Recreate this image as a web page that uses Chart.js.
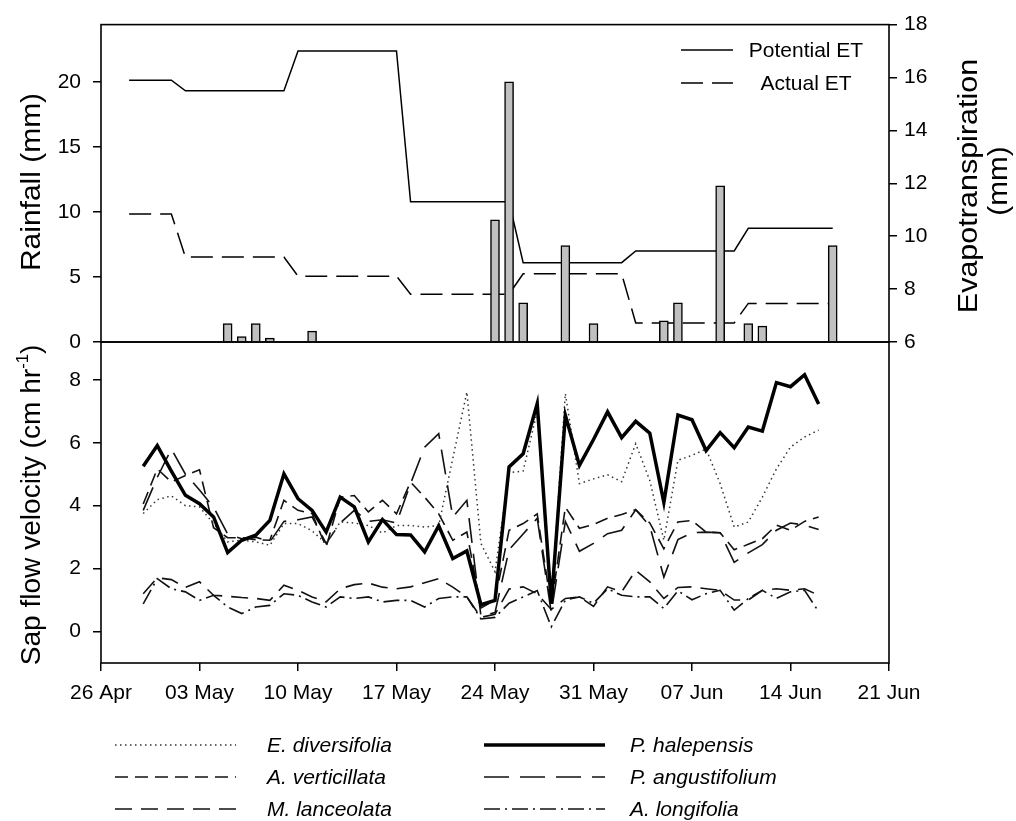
<!DOCTYPE html>
<html>
<head>
<meta charset="utf-8">
<script src="https://cdn.jsdelivr.net/npm/chart.js@4.4.1/dist/chart.umd.min.js"></script>
<style>
  html, body { margin: 0; padding: 0; background: #fff; }
  #wrap { position: relative; width: 1016px; height: 821px; background: #fff; }
  #wrap canvas { position: absolute; left: 0; top: 0; }
</style>
</head>
<body>
<div id="wrap">
  <canvas id="et_chart" width="1016" height="821"></canvas>
  <canvas id="sap_chart" width="1016" height="821"></canvas>
</div>
<script>
// x axis: days counted from 26 Apr
const dateTicks = [0, 7, 14, 21, 28, 35, 42, 49, 56];
const dateLabels = ["26 Apr", "03 May", "10 May", "17 May", "24 May", "31 May", "07 Jun", "14 Jun", "21 Jun"];

const rainTicks = [0, 5, 10, 15, 20];
const etTicks = [6, 8, 10, 12, 14, 16, 18];
const sapTicks = [0, 2, 4, 6, 8];

// rainfall (mm)
const rainDays = [9, 10, 11, 12, 15, 28, 29, 30, 33, 35, 40, 41, 44, 46, 47, 52];
const rainfall = [1.42, 0.41, 1.42, 0.3, 0.84, 9.39, 20.0, 3.02, 7.41, 1.42, 1.63, 3.02, 12.0, 1.42, 1.22, 7.41];

// evapotranspiration (mm), weekly steps
const etDays = [2, 5, 6, 13, 14, 21, 22, 29, 30, 37, 38, 45, 46, 52];
const potentialET = [15.9, 15.9, 15.5, 15.5, 17.0, 17.0, 11.3, 11.3, 9.0, 9.0, 9.44, 9.44, 10.3, 10.3];
const actualET = [10.84, 10.84, 9.21, 9.21, 8.49, 8.49, 7.81, 7.81, 8.58, 8.58, 6.72, 6.72, 7.46, 7.46];

// sap flow velocity (cm hr-1), daily
const sapDays = [3, 4, 5, 6, 7, 8, 9, 10, 11, 12, 13, 14, 15, 16, 17, 18, 19, 20, 21, 22, 23, 24, 25, 26, 27,
  28, 29, 30, 31, 32, 33, 34, 35, 36, 37, 38, 39, 40, 41, 42, 43, 44, 45, 46, 47, 48, 49, 50, 51];
const eDiversifolia = [3.75, 4.19, 4.31, 4.0, 3.96, 3.43, 2.85, 2.9, 2.85, 2.74, 3.43, 3.43, 3.2, 2.8, 3.48, 3.45, 3.37,
  3.13, 3.37, 3.37, 3.32, 3.37, 5.5, 7.61, 2.8, 1.9, 5.05, 5.1, 7.0, 0.9, 7.56, 4.7, 4.85, 4.98, 4.76, 5.97, 4.8, 2.9,
  5.44, 5.6, 5.8, 4.7, 3.32, 3.48, 4.27, 5.17, 5.86, 6.18, 6.4];
const aVerticillata = [4.05, 5.17, 4.75, 4.96, 5.14, 3.3, 2.98, 2.98, 2.92, 2.9, 4.17, 3.85, 3.75, 2.68, 4.27, 4.32, 3.8,
  4.17, 3.74, 4.75, 4.27, 3.74, 2.9, 3.16, 0.75, 1.0, 3.22, 3.43, 3.74, 0.8, 3.95, 3.28, 3.4, 3.6, 3.72, 3.87, 3.45, 2.63,
  3.48, 3.53, 3.16, 3.14, 2.6, 2.77, 2.95, 3.38, 3.22, 3.5, 3.64];
const mLanceolata = [1.2, 1.71, 1.65, 1.4, 1.58, 1.15, 1.12, 1.08, 1.05, 0.99, 1.47, 1.31, 1.1, 0.94, 1.36, 1.49, 1.54,
  1.41, 1.36, 1.42, 1.55, 1.68, 1.41, 1.1, 0.45, 0.55, 1.35, 1.42, 1.2, 0.7, 1.05, 1.1, 0.8, 1.42, 1.26, 1.94, 1.58, 1.05,
  1.4, 1.42, 1.36, 1.31, 1.0, 1.0, 1.31, 1.36, 1.31, 1.36, 1.15];
const pHalepensis = [5.25, 5.91, 5.1, 4.33, 4.06, 3.64, 2.51, 2.9, 3.06, 3.53, 5.01, 4.22, 3.85, 3.16, 4.27, 3.96, 2.85,
  3.56, 3.08, 3.07, 2.53, 3.36, 2.32, 2.56, 0.85, 0.99, 5.23, 5.65, 7.24, 0.89, 6.87, 5.28, 6.1, 6.98, 6.16, 6.68, 6.3, 4.1,
  6.88, 6.73, 5.75, 6.32, 5.84, 6.5, 6.37, 7.91, 7.78, 8.16, 7.23];
const pAngustifolium = [3.85, 4.9, 5.8, 5.0, 4.5, 3.95, 3.1, 2.95, 3.0, 2.85, 3.5, 3.55, 3.64, 2.8, 3.45, 3.85, 3.5,
  3.55, 3.45, 4.7, 5.86, 6.29, 3.64, 4.17, 0.5, 0.6, 2.6, 3.1, 3.6, 0.6, 3.5, 2.55, 2.8, 3.11, 3.22, 3.87, 3.35, 1.73,
  2.92, 3.14, 3.16, 3.14, 2.2, 2.5, 2.76, 3.22, 3.45, 3.38, 3.24];
const aLongifolia = [0.88, 1.68, 1.36, 1.26, 0.99, 1.15, 0.78, 0.57, 0.78, 0.83, 1.2, 1.15, 0.94, 0.78, 1.1, 1.05, 1.1,
  0.94, 0.99, 0.99, 0.78, 1.05, 1.1, 1.1, 0.4, 0.45, 0.9, 1.1, 1.3, 0.15, 1.0, 1.1, 0.9, 1.36, 1.15, 1.1, 1.1, 0.73,
  1.29, 1.01, 1.2, 1.31, 0.68, 1.05, 1.31, 1.05, 1.26, 1.31, 0.63];

const FONT = '"Liberation Sans", Arial, sans-serif';
Chart.defaults.font.family = FONT;
Chart.defaults.font.size = 21;
Chart.defaults.color = "#000";

const points = (xs, ys) => xs.map((x, i) => ({ x: x, y: ys[i] }));

const tickMarks = {
  display: true,
  drawOnChartArea: false,
  drawTicks: true,
  tickLength: 8,
  color: "#000",
  lineWidth: 1.5,
};

// box round the plot area
const frame = {
  id: "frame",
  afterDatasetsDraw(chart) {
    const { ctx, chartArea: a } = chart;
    ctx.save();
    ctx.strokeStyle = "#000";
    ctx.lineWidth = 1.6;
    ctx.strokeRect(a.left, a.top, a.right - a.left, a.bottom - a.top);
    ctx.restore();
  },
};

// vertical title, read bottom to top, stretched a little along its length
function upText(ctx, text, x, y, size, stretch) {
  ctx.save();
  ctx.translate(x, y);
  ctx.rotate(-Math.PI / 2);
  ctx.scale(stretch || 1, 1);
  ctx.font = size + "px " + FONT;
  ctx.textAlign = "center";
  ctx.textBaseline = "middle";
  ctx.fillStyle = "#000";
  ctx.fillText(text, 0, 0);
  ctx.restore();
}

function sampleLine(ctx, ds, x0, x1, y) {
  ctx.save();
  ctx.strokeStyle = ds.borderColor;
  ctx.lineWidth = ds.borderWidth;
  ctx.setLineDash(ds.borderDash || []);
  ctx.beginPath();
  ctx.moveTo(x0, y);
  ctx.lineTo(x1, y);
  ctx.stroke();
  ctx.restore();
}

const etTitles = {
  id: "etTitles",
  afterDraw(chart) {
    const ctx = chart.ctx;
    upText(ctx, "Rainfall (mm)", 33, 182, 27, 1.11);
    upText(ctx, "Evapotranspiration", 970, 186, 27, 1.13);
    upText(ctx, "(mm)", 1000, 181, 27, 1.1);

    // legend for the two ET lines
    const ets = chart.data.datasets.filter(d => d.type !== "bar");
    ctx.save();
    ctx.font = "21px " + FONT;
    ctx.textAlign = "center";
    ctx.textBaseline = "middle";
    ets.forEach((ds, i) => {
      const y = 50 + i * 33;
      sampleLine(ctx, ds, 681, 733, y);
      ctx.fillStyle = "#000";
      ctx.fillText(ds.label, 806, y + 1);
    });
    ctx.restore();
  },
};

const sapTitle = {
  id: "sapTitle",
  afterDraw(chart) {
    const ctx = chart.ctx;
    const head = "Sap flow velocity (cm hr", sup = "-1", tail = ")";
    ctx.save();
    ctx.translate(33, 505);
    ctx.rotate(-Math.PI / 2);
    ctx.scale(1.04, 1);
    ctx.fillStyle = "#000";
    ctx.textBaseline = "middle";
    ctx.textAlign = "left";
    ctx.font = "27px " + FONT;
    const w1 = ctx.measureText(head).width, w3 = ctx.measureText(tail).width;
    ctx.font = "16px " + FONT;
    const w2 = ctx.measureText(sup).width;
    let x = -(w1 + w2 + w3) / 2;
    ctx.font = "27px " + FONT;
    ctx.fillText(head, x, 0);
    ctx.font = "16px " + FONT;
    ctx.fillText(sup, x + w1, -9);
    ctx.font = "27px " + FONT;
    ctx.fillText(tail, x + w1 + w2, 0);
    ctx.restore();

    // species legend, two columns of three
    const cols = [115, 484];
    const textX = [267, 630];
    const rows = [745, 777, 809];
    ctx.save();
    ctx.font = "italic 21px " + FONT;
    ctx.textBaseline = "middle";
    ctx.textAlign = "left";
    chart.data.datasets.forEach((ds, i) => {
      const c = Math.floor(i / 3), r = i % 3;
      sampleLine(ctx, ds, cols[c], cols[c] + 121, rows[r]);
      ctx.fillStyle = "#000";
      ctx.fillText(ds.label, textX[c], rows[r] + 1);
    });
    ctx.restore();
  },
};

const etConfig = {
  type: "line",
  data: {
    datasets: [
      {
        type: "bar",
        label: "Rainfall",
        data: points(rainDays, rainfall),
        yAxisID: "yRain",
        backgroundColor: "#c0c0c0",
        borderColor: "#000",
        borderWidth: 1.5,
        barThickness: 9,
        order: 0,
      },
      {
        label: "Potential ET",
        data: points(etDays, potentialET),
        yAxisID: "yET",
        borderColor: "#000",
        borderWidth: 1.5,
        pointRadius: 0,
        tension: 0,
        order: 1,
      },
      {
        label: "Actual ET",
        data: points(etDays, actualET),
        yAxisID: "yET",
        borderColor: "#000",
        borderWidth: 1.5,
        borderDash: [22, 9],
        pointRadius: 0,
        tension: 0,
        order: 1,
      },
    ],
  },
  options: {
    responsive: false,
    animation: false,
    events: [],
    layout: { padding: { top: 21, bottom: 479, left: 0, right: 0 } },
    plugins: { legend: { display: false }, tooltip: { enabled: false } },
    scales: {
      x: { type: "linear", min: 0, max: 56, offset: false, display: false },
      yRain: {
        position: "left",
        min: 0,
        max: 24.4,
        afterFit: (s) => { s.width = 101; },
        afterBuildTicks: (s) => { s.ticks = rainTicks.map((v) => ({ value: v })); },
        grid: tickMarks,
        border: { display: false },
        ticks: { padding: 12 },
      },
      yET: {
        position: "right",
        min: 6,
        max: 18,
        afterFit: (s) => { s.width = 127; },
        afterBuildTicks: (s) => { s.ticks = etTicks.map((v) => ({ value: v })); },
        grid: tickMarks,
        border: { display: false },
        ticks: { padding: 7 },
      },
    },
  },
  plugins: [frame, etTitles],
};

const sapLine = (label, values, width, dash, colour) => ({
  label: label,
  data: points(sapDays, values),
  borderColor: colour || "#111",
  borderWidth: width,
  borderDash: dash,
  pointRadius: 0,
  tension: 0,
  order: width > 2 ? 0 : 1,
});

const sapConfig = {
  type: "line",
  data: {
    datasets: [
      sapLine("E. diversifolia", eDiversifolia, 1.5, [1.5, 3.5], "#333"),
      sapLine("A. verticillata", aVerticillata, 1.6, [13, 7]),
      sapLine("M. lanceolata", mLanceolata, 1.6, [17, 9]),
      sapLine("P. halepensis", pHalepensis, 3.5, [], "#000"),
      sapLine("P. angustifolium", pAngustifolium, 1.6, [25, 11]),
      sapLine("A. longifolia", aLongifolia, 1.6, [16, 5, 2, 5]),
    ],
  },
  options: {
    responsive: false,
    animation: false,
    events: [],
    layout: { padding: { top: 342, bottom: 0, left: 0, right: 127 } },
    plugins: { legend: { display: false }, tooltip: { enabled: false } },
    scales: {
      x: {
        type: "linear",
        min: 0,
        max: 56,
        offset: false,
        afterFit: (s) => { s.height = 158; },
        afterBuildTicks: (s) => { s.ticks = dateTicks.map((v) => ({ value: v })); },
        grid: tickMarks,
        border: { display: false },
        ticks: {
          padding: 10,
          autoSkip: false,
          maxRotation: 0,
          callback: (v) => dateLabels[dateTicks.indexOf(v)],
        },
      },
      y: {
        position: "left",
        min: -1,
        max: 9.2,
        afterFit: (s) => { s.width = 101; },
        afterBuildTicks: (s) => { s.ticks = sapTicks.map((v) => ({ value: v })); },
        grid: tickMarks,
        border: { display: false },
        ticks: { padding: 12 },
      },
    },
  },
  plugins: [frame, sapTitle],
};

new Chart(document.getElementById("et_chart"), etConfig);
new Chart(document.getElementById("sap_chart"), sapConfig);
</script>
</body>
</html>
